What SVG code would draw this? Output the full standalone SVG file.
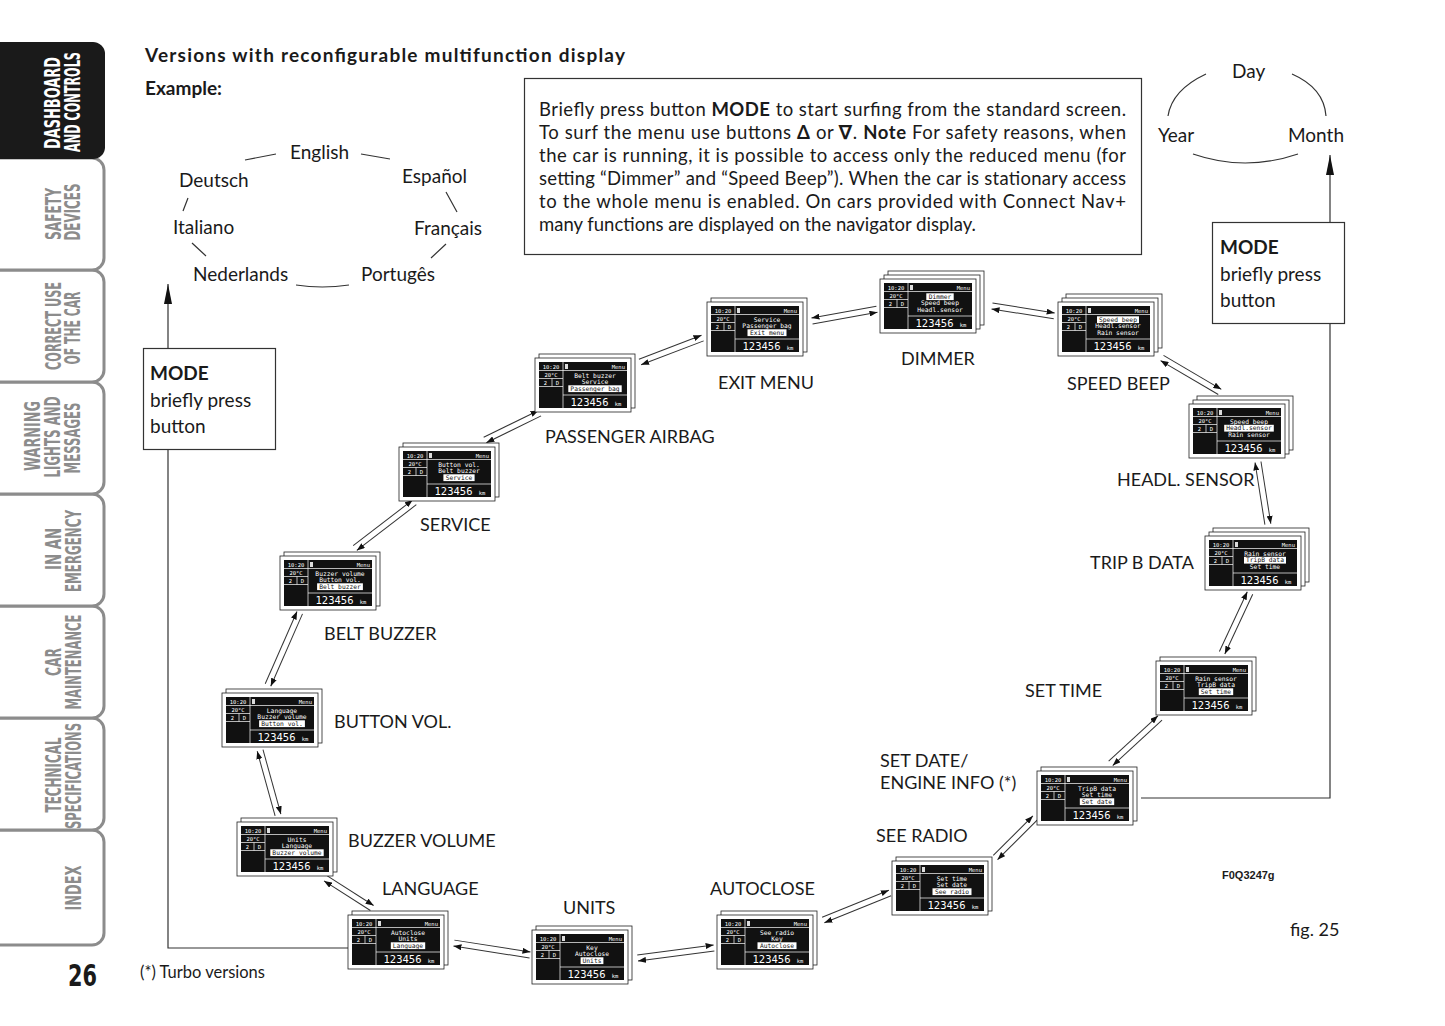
<svg xmlns="http://www.w3.org/2000/svg" xmlns:xlink="http://www.w3.org/1999/xlink" width="1445" height="1026" viewBox="0 0 1445 1026">
<style>
.t{font-family:Lato,"Open Sans","Liberation Sans",sans-serif;fill:#1a1a1a}
.lbl{font-family:Lato,"Open Sans","Liberation Sans",sans-serif;font-size:18px;fill:#1a1a1a}
.tab{font-family:"Liberation Sans Narrow","DejaVu Sans Condensed","Liberation Sans",sans-serif;font-weight:bold;font-size:21px;fill:#8c8c8c}
.dt{font-family:"DejaVu Sans Mono","Liberation Mono",monospace;fill:#fff;font-size:5.5px}
.km{font-family:"DejaVu Sans Mono","Liberation Mono",monospace;fill:#fff;font-size:10.5px}
.ml{font-family:"DejaVu Sans Mono","Liberation Mono",monospace;fill:#fff;font-size:6.3px;text-anchor:middle}
.hl{fill:#fff}
.pg{fill:#fff;stroke:#222;stroke-width:0.8}
.cn{stroke:#333;stroke-width:1;fill:none}
.dc{stroke:#333;stroke-width:1.2;fill:none}
</style>
<defs>
<marker id="ah" viewBox="0 0 8 6" refX="8" refY="3" markerWidth="8" markerHeight="6" markerUnits="userSpaceOnUse" orient="auto-start-reverse"><path d="M0,0 L8,3 L0,6 z" fill="#111"/></marker>
<marker id="big" viewBox="0 0 20 8" refX="20" refY="4" markerWidth="20" markerHeight="8" markerUnits="userSpaceOnUse" orient="auto"><path d="M0,0 L20,4 L0,8 z" fill="#111"/></marker>
<g id="disp">
<rect class="pg" x="0" y="0" width="96" height="54"/>
<rect x="4" y="4" width="88" height="46" fill="#111"/>
<path d="M28 4V50 M4 12.5H92 M4 20.5H28 M4 28.5H28 M28 37H92 M17 20.5V28.5" stroke="#fff" stroke-width="0.7" fill="none"/>
<rect x="30" y="6" width="3" height="5" fill="#ddd"/>
<text class="dt" x="16" y="10.8" text-anchor="middle">10:20</text>
<text class="dt" x="16" y="18.8" text-anchor="middle">20°C</text>
<text class="dt" x="10.5" y="26.8" text-anchor="middle">2</text>
<text class="dt" x="22.5" y="26.8" text-anchor="middle">D</text>
<text class="dt" x="90" y="10.8" text-anchor="end">Menu</text>
<text class="km" x="61" y="47.5" text-anchor="middle">123456 <tspan style="font-size:5.5px">km</tspan></text>
</g>
<rect id="b1" class="pg" x="4" y="-4" width="96" height="54"/>
<rect id="b2" class="pg" x="8" y="-8" width="96" height="54"/>
</defs>
<rect width="1445" height="1026" fill="#fff"/>

<g id="sidebar">
<path d="M-5 830 H92 A12 12 0 0 1 104 842 V933 A12 12 0 0 1 92 945 H-5 Z" fill="#fff" stroke="#8c8c8c" stroke-width="3"/>
<path d="M-5 718 H92 A12 12 0 0 1 104 730 V818 A12 12 0 0 1 92 830 H-5 Z" fill="#fff" stroke="#8c8c8c" stroke-width="3"/>
<path d="M-5 606 H92 A12 12 0 0 1 104 618 V706 A12 12 0 0 1 92 718 H-5 Z" fill="#fff" stroke="#8c8c8c" stroke-width="3"/>
<path d="M-5 494 H92 A12 12 0 0 1 104 506 V594 A12 12 0 0 1 92 606 H-5 Z" fill="#fff" stroke="#8c8c8c" stroke-width="3"/>
<path d="M-5 382 H92 A12 12 0 0 1 104 394 V482 A12 12 0 0 1 92 494 H-5 Z" fill="#fff" stroke="#8c8c8c" stroke-width="3"/>
<path d="M-5 270 H92 A12 12 0 0 1 104 282 V370 A12 12 0 0 1 92 382 H-5 Z" fill="#fff" stroke="#8c8c8c" stroke-width="3"/>
<path d="M-5 158 H92 A12 12 0 0 1 104 170 V258 A12 12 0 0 1 92 270 H-5 Z" fill="#fff" stroke="#8c8c8c" stroke-width="3"/>
<path d="M-5 42 H92 A12 12 0 0 1 105 55 V146 A12 12 0 0 1 92 159 H-5 Z" fill="#1a1a1a"/>
<text class="tab" style="fill:#fff" transform="translate(60 103) rotate(-90)" text-anchor="middle" textLength="92" lengthAdjust="spacingAndGlyphs">DASHBOARD</text>
<text class="tab" style="fill:#fff" transform="translate(80 102) rotate(-90)" text-anchor="middle" textLength="100" lengthAdjust="spacingAndGlyphs">AND CONTROLS</text>
<text class="tab" transform="translate(61 214) rotate(-90)" text-anchor="middle" textLength="52" lengthAdjust="spacingAndGlyphs">SAFETY</text>
<text class="tab" transform="translate(80 212) rotate(-90)" text-anchor="middle" textLength="57" lengthAdjust="spacingAndGlyphs">DEVICES</text>
<text class="tab" transform="translate(61 326) rotate(-90)" text-anchor="middle" textLength="88" lengthAdjust="spacingAndGlyphs">CORRECT USE</text>
<text class="tab" transform="translate(80 328) rotate(-90)" text-anchor="middle" textLength="73" lengthAdjust="spacingAndGlyphs">OF THE CAR</text>
<text class="tab" transform="translate(40 436) rotate(-90)" text-anchor="middle" textLength="70" lengthAdjust="spacingAndGlyphs">WARNING</text>
<text class="tab" transform="translate(60 437) rotate(-90)" text-anchor="middle" textLength="81" lengthAdjust="spacingAndGlyphs">LIGHTS AND</text>
<text class="tab" transform="translate(80 438) rotate(-90)" text-anchor="middle" textLength="71" lengthAdjust="spacingAndGlyphs">MESSAGES</text>
<text class="tab" transform="translate(61 549) rotate(-90)" text-anchor="middle" textLength="42" lengthAdjust="spacingAndGlyphs">IN AN</text>
<text class="tab" transform="translate(81 551) rotate(-90)" text-anchor="middle" textLength="82" lengthAdjust="spacingAndGlyphs">EMERGENCY</text>
<text class="tab" transform="translate(61 662) rotate(-90)" text-anchor="middle" textLength="28" lengthAdjust="spacingAndGlyphs">CAR</text>
<text class="tab" transform="translate(81 662) rotate(-90)" text-anchor="middle" textLength="95" lengthAdjust="spacingAndGlyphs">MAINTENANCE</text>
<text class="tab" transform="translate(61 775) rotate(-90)" text-anchor="middle" textLength="75" lengthAdjust="spacingAndGlyphs">TECHNICAL</text>
<text class="tab" transform="translate(81 776) rotate(-90)" text-anchor="middle" textLength="106" lengthAdjust="spacingAndGlyphs">SPECIFICATIONS</text>
<text class="tab" transform="translate(81 888) rotate(-90)" text-anchor="middle" textLength="45" lengthAdjust="spacingAndGlyphs">INDEX</text>
<text x="68" y="986" font-family="'Liberation Sans Narrow','DejaVu Sans Condensed','Liberation Sans',sans-serif" font-weight="bold" font-size="31" fill="#1a1a1a" textLength="29" lengthAdjust="spacingAndGlyphs">26</text>
</g>

<g id="header">
<text class="t" x="145" y="62" font-size="19" font-weight="bold" textLength="480">Versions with reconfigurable multifunction display</text>
<text class="t" x="145" y="95" font-size="19" font-weight="bold">Example:</text>
</g>

<g id="note">
<rect x="524.5" y="78.5" width="617" height="176" fill="#fff" stroke="#333" stroke-width="1.2"/>
<text class="t" x="539" y="116" font-size="18.5" textLength="587" lengthAdjust="spacing">Briefly press button <tspan font-weight="bold">MODE</tspan> to start surfing from the standard screen.</text>
<text class="t" x="539" y="139" font-size="18.5" textLength="587" lengthAdjust="spacing">To surf the menu use buttons <tspan font-weight="bold">Δ</tspan> or <tspan font-weight="bold">∇</tspan>. <tspan font-weight="bold">Note</tspan>  For safety reasons, when</text>
<text class="t" x="539" y="162" font-size="18.5" textLength="587" lengthAdjust="spacing">the car is running, it is possible to access only the reduced menu (for</text>
<text class="t" x="539" y="185" font-size="18.5" textLength="587" lengthAdjust="spacing">setting “Dimmer” and “Speed Beep”). When the car is stationary access</text>
<text class="t" x="539" y="208" font-size="18.5" textLength="587" lengthAdjust="spacing">to the whole menu is enabled. On cars provided with Connect Nav+</text>
<text class="t" x="539" y="231" font-size="18.5">many functions are displayed on the navigator display.</text>
</g>

<g id="languages" class="t" font-size="19">
<text x="290" y="159">English</text>
<text x="179" y="187">Deutsch</text>
<text x="402" y="183">Español</text>
<text x="173" y="234">Italiano</text>
<text x="414" y="235">Français</text>
<text x="193" y="281">Nederlands</text>
<text x="361" y="281">Portugês</text>
</g>

<g id="date" class="t" font-size="19">
<text x="1232" y="78">Day</text>
<text x="1158" y="142">Year</text>
<text x="1288" y="142">Month</text>
</g>

<g id="connectors">
<path class="dc" d="M245,160 L276,154 M361,154 L390,159 M188,198 L183,211 M446,192 L457,212 M192,243 L206,256 M446,244 L431,258 M296,285 Q322,289 349,285"/>
<path class="dc" d="M1206,74 Q1172,90 1168,116 M1292,74 Q1324,88 1326,116 M1193,154 Q1245,172 1298,154"/>
<polyline class="dc" points="348,948 168,948 168,284" marker-end="url(#big)"/>
<polyline class="dc" points="1141,798 1330,798 1330,155" marker-end="url(#big)"/>
<g transform="translate(640 362) rotate(-20.9)"><line class="cn" x1="0" y1="-3" x2="67" y2="-3" marker-end="url(#ah)"/><line class="cn" x1="0" y1="3" x2="67" y2="3" marker-start="url(#ah)"/></g>
<g transform="translate(812 321) rotate(-10.3)"><line class="cn" x1="0" y1="-3" x2="66" y2="-3" marker-start="url(#ah)"/><line class="cn" x1="0" y1="3" x2="66" y2="3" marker-end="url(#ah)"/></g>
<g transform="translate(992 306) rotate(9)"><line class="cn" x1="0" y1="-3" x2="63" y2="-3" marker-end="url(#ah)"/><line class="cn" x1="0" y1="3" x2="63" y2="3" marker-start="url(#ah)"/></g>
<g transform="translate(1162 358) rotate(30.4)"><line class="cn" x1="0" y1="-3" x2="67" y2="-3" marker-end="url(#ah)"/><line class="cn" x1="0" y1="3" x2="67" y2="3" marker-start="url(#ah)"/></g>
<g transform="translate(1258 462) rotate(81)"><line class="cn" x1="0" y1="-3" x2="63" y2="-3" marker-end="url(#ah)"/><line class="cn" x1="0" y1="3" x2="63" y2="3" marker-start="url(#ah)"/></g>
<g transform="translate(1250 593) rotate(115)"><line class="cn" x1="0" y1="-3" x2="66" y2="-3" marker-end="url(#ah)"/><line class="cn" x1="0" y1="3" x2="66" y2="3" marker-start="url(#ah)"/></g>
<g transform="translate(1160 718) rotate(137.4)"><line class="cn" x1="0" y1="-3" x2="67" y2="-3" marker-end="url(#ah)"/><line class="cn" x1="0" y1="3" x2="67" y2="3" marker-start="url(#ah)"/></g>
<g transform="translate(1035 818) rotate(135)"><line class="cn" x1="0" y1="-3" x2="56" y2="-3" marker-end="url(#ah)"/><line class="cn" x1="0" y1="3" x2="56" y2="3" marker-start="url(#ah)"/></g>
<g transform="translate(890 893) rotate(158)"><line class="cn" x1="0" y1="-3" x2="72" y2="-3" marker-end="url(#ah)"/><line class="cn" x1="0" y1="3" x2="72" y2="3" marker-start="url(#ah)"/></g>
<g transform="translate(714 948) rotate(172.6)"><line class="cn" x1="0" y1="-3" x2="77" y2="-3" marker-end="url(#ah)"/><line class="cn" x1="0" y1="3" x2="77" y2="3" marker-start="url(#ah)"/></g>
<g transform="translate(530 955) rotate(-171.1)"><line class="cn" x1="0" y1="-3" x2="77" y2="-3" marker-end="url(#ah)"/><line class="cn" x1="0" y1="3" x2="77" y2="3" marker-start="url(#ah)"/></g>
<g transform="translate(372 908) rotate(-147.4)"><line class="cn" x1="0" y1="-3" x2="55" y2="-3" marker-end="url(#ah)"/><line class="cn" x1="0" y1="3" x2="55" y2="3" marker-start="url(#ah)"/></g>
<g transform="translate(278 815) rotate(-105.5)"><line class="cn" x1="0" y1="-3" x2="67" y2="-3" marker-end="url(#ah)"/><line class="cn" x1="0" y1="3" x2="67" y2="3" marker-start="url(#ah)"/></g>
<g transform="translate(268 685) rotate(-66.3)"><line class="cn" x1="0" y1="-3" x2="79" y2="-3" marker-end="url(#ah)"/><line class="cn" x1="0" y1="3" x2="79" y2="3" marker-start="url(#ah)"/></g>
<g transform="translate(355 548) rotate(-37.5)"><line class="cn" x1="0" y1="-3" x2="75" y2="-3" marker-end="url(#ah)"/><line class="cn" x1="0" y1="3" x2="75" y2="3" marker-start="url(#ah)"/></g>
<g transform="translate(485 440) rotate(-26.1)"><line class="cn" x1="0" y1="-3" x2="61" y2="-3" marker-end="url(#ah)"/><line class="cn" x1="0" y1="3" x2="61" y2="3" marker-start="url(#ah)"/></g>
</g>

<g id="mode-left">
<rect x="143.5" y="348.5" width="132" height="101" fill="#fff" stroke="#333" stroke-width="1.2"/>
<text class="t" x="150" y="380" font-size="19" font-weight="bold">MODE</text>
<text class="t" x="150" y="407" font-size="19">briefly press</text>
<text class="t" x="150" y="433" font-size="19">button</text>
</g>
<g id="mode-right">
<rect x="1212.5" y="222.5" width="132" height="101" fill="#fff" stroke="#333" stroke-width="1.2"/>
<text class="t" x="1220" y="254" font-size="19" font-weight="bold">MODE</text>
<text class="t" x="1220" y="281" font-size="19">briefly press</text>
<text class="t" x="1220" y="307" font-size="19">button</text>
</g>

<g id="n-exit-menu">
<g transform="translate(707 302)"><use href="#b1"/><use href="#disp"/>
<rect class="hl" x="40.5" y="27.3" width="39" height="6.8"/>
<text class="ml" x="60" y="19.5">Service</text><text class="ml" x="60" y="26">Passenger bag</text><text class="ml" x="60" y="32.5" style="fill:#111">Exit menu</text></g>
<text class="lbl" x="718" y="389">EXIT MENU</text>
</g>
<g id="n-dimmer">
<g transform="translate(880 279)"><use href="#b2"/><use href="#b1"/><use href="#disp"/>
<rect class="hl" x="46.3" y="14.3" width="27.4" height="6.8"/>
<text class="ml" x="60" y="19.5" style="fill:#111">Dimmer</text><text class="ml" x="60" y="26">Speed beep</text><text class="ml" x="60" y="32.5">Headl.sensor</text></g>
<text class="lbl" x="901" y="365">DIMMER</text>
</g>
<g id="n-speed-beep">
<g transform="translate(1058 302)"><use href="#b2"/><use href="#b1"/><use href="#disp"/>
<rect class="hl" x="39" y="14.3" width="42" height="6.8"/>
<text class="ml" x="60" y="19.5" style="fill:#111">Speed beep</text><text class="ml" x="60" y="26">Headl.sensor</text><text class="ml" x="60" y="32.5">Rain sensor</text></g>
<text class="lbl" x="1067" y="390">SPEED BEEP</text>
</g>
<g id="n-headl-sensor">
<g transform="translate(1189 404)"><use href="#b2"/><use href="#b1"/><use href="#disp"/>
<rect class="hl" x="35.2" y="20.8" width="49.6" height="6.8"/>
<text class="ml" x="60" y="19.5">Speed beep</text><text class="ml" x="60" y="26" style="fill:#111">Headl.sensor</text><text class="ml" x="60" y="32.5">Rain sensor</text></g>
<text class="lbl" x="1117" y="486">HEADL. SENSOR</text>
</g>
<g id="n-trip-b-data">
<g transform="translate(1205 536)"><use href="#b2"/><use href="#b1"/><use href="#disp"/>
<rect class="hl" x="39" y="20.8" width="42" height="6.8"/>
<text class="ml" x="60" y="19.5">Rain sensor</text><text class="ml" x="60" y="26" style="fill:#111">TripB data</text><text class="ml" x="60" y="32.5">Set time</text></g>
<text class="lbl" x="1090" y="569">TRIP B DATA</text>
</g>
<g id="n-set-time">
<g transform="translate(1156 661)"><use href="#b1"/><use href="#disp"/>
<rect class="hl" x="42.8" y="27.3" width="34.4" height="6.8"/>
<text class="ml" x="60" y="19.5">Rain sensor</text><text class="ml" x="60" y="26">TripB data</text><text class="ml" x="60" y="32.5" style="fill:#111">Set time</text></g>
<text class="lbl" x="1025" y="697">SET TIME</text>
</g>
<g id="n-set-date">
<g transform="translate(1037 771)"><use href="#b1"/><use href="#disp"/>
<rect class="hl" x="42.8" y="27.3" width="34.4" height="6.8"/>
<text class="ml" x="60" y="19.5">TripB data</text><text class="ml" x="60" y="26">Set time</text><text class="ml" x="60" y="32.5" style="fill:#111">Set date</text></g>
<text class="lbl" x="880" y="767">SET DATE/</text>
<text class="lbl" x="880" y="789">ENGINE INFO (*)</text>
</g>
<g id="n-see-radio">
<g transform="translate(892 861)"><use href="#b1"/><use href="#disp"/>
<rect class="hl" x="40.5" y="27.3" width="39" height="6.8"/>
<text class="ml" x="60" y="19.5">Set time</text><text class="ml" x="60" y="26">Set date</text><text class="ml" x="60" y="32.5" style="fill:#111">See radio</text></g>
<text class="lbl" x="876" y="842">SEE RADIO</text>
</g>
<g id="n-autoclose">
<g transform="translate(717 915)"><use href="#b1"/><use href="#disp"/>
<rect class="hl" x="40.5" y="27.3" width="39" height="6.8"/>
<text class="ml" x="60" y="19.5">See radio</text><text class="ml" x="60" y="26">Key</text><text class="ml" x="60" y="32.5" style="fill:#111">Autoclose</text></g>
<text class="lbl" x="710" y="895">AUTOCLOSE</text>
</g>
<g id="n-units">
<g transform="translate(532 930)"><use href="#b1"/><use href="#disp"/>
<rect class="hl" x="48.6" y="27.3" width="22.8" height="6.8"/>
<text class="ml" x="60" y="19.5">Key</text><text class="ml" x="60" y="26">Autoclose</text><text class="ml" x="60" y="32.5" style="fill:#111">Units</text></g>
<text class="lbl" x="563" y="914">UNITS</text>
</g>
<g id="n-language">
<g transform="translate(348 915)"><use href="#b1"/><use href="#disp"/>
<rect class="hl" x="42.8" y="27.3" width="34.4" height="6.8"/>
<text class="ml" x="60" y="19.5">Autoclose</text><text class="ml" x="60" y="26">Units</text><text class="ml" x="60" y="32.5" style="fill:#111">Language</text></g>
<text class="lbl" x="382" y="895">LANGUAGE</text>
</g>
<g id="n-buzzer-volume">
<g transform="translate(237 822)"><use href="#b1"/><use href="#disp"/>
<rect class="hl" x="33.3" y="27.3" width="53.4" height="6.8"/>
<text class="ml" x="60" y="19.5">Units</text><text class="ml" x="60" y="26">Language</text><text class="ml" x="60" y="32.5" style="fill:#111">Buzzer volume</text></g>
<text class="lbl" x="348" y="847">BUZZER VOLUME</text>
</g>
<g id="n-button-vol">
<g transform="translate(222 693)"><use href="#b1"/><use href="#disp"/>
<rect class="hl" x="37.1" y="27.3" width="45.8" height="6.8"/>
<text class="ml" x="60" y="19.5">Language</text><text class="ml" x="60" y="26">Buzzer volume</text><text class="ml" x="60" y="32.5" style="fill:#111">Button vol.</text></g>
<text class="lbl" x="334" y="728">BUTTON VOL.</text>
</g>
<g id="n-belt-buzzer">
<g transform="translate(280 556)"><use href="#b1"/><use href="#disp"/>
<rect class="hl" x="37.1" y="27.3" width="45.8" height="6.8"/>
<text class="ml" x="60" y="19.5">Buzzer volume</text><text class="ml" x="60" y="26">Button vol.</text><text class="ml" x="60" y="32.5" style="fill:#111">Belt buzzer</text></g>
<text class="lbl" x="324" y="640">BELT BUZZER</text>
</g>
<g id="n-service">
<g transform="translate(399 447)"><use href="#b1"/><use href="#disp"/>
<rect class="hl" x="44.4" y="27.3" width="31.2" height="6.8"/>
<text class="ml" x="60" y="19.5">Button vol.</text><text class="ml" x="60" y="26">Belt buzzer</text><text class="ml" x="60" y="32.5" style="fill:#111">Service</text></g>
<text class="lbl" x="420" y="531">SERVICE</text>
</g>
<g id="n-passenger-airbag">
<g transform="translate(535 358)"><use href="#b1"/><use href="#disp"/>
<rect class="hl" x="33.3" y="27.3" width="53.4" height="6.8"/>
<text class="ml" x="60" y="19.5">Belt buzzer</text><text class="ml" x="60" y="26">Service</text><text class="ml" x="60" y="32.5" style="fill:#111">Passenger bag</text></g>
<text class="lbl" x="545" y="443">PASSENGER AIRBAG</text>
</g>

<g id="footer">
<text x="1222" y="879" font-family="'Liberation Sans',Arial,sans-serif" font-weight="bold" font-size="11" fill="#1a1a1a">F0Q3247g</text>
<text class="t" x="1290" y="936" font-size="18">fig. 25</text>
<text class="t" x="140" y="978" font-size="16.5">(*) Turbo versions</text>
</g>
</svg>
